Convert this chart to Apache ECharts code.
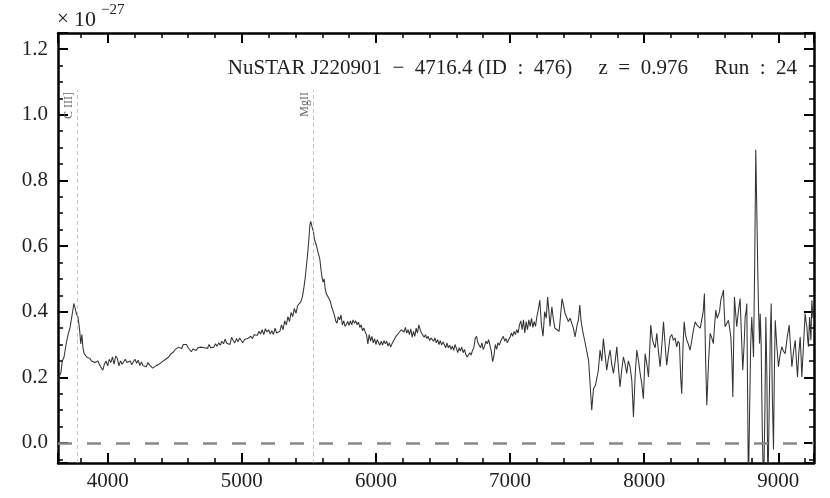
<!DOCTYPE html>
<html>
<head>
<meta charset="utf-8">
<script src="https://cdn.jsdelivr.net/npm/echarts@6/dist/echarts.min.js"></script>
<style>
  html, body { margin: 0; padding: 0; background: #fff; }
  #chart { width: 830px; height: 498px; }
</style>
</head>
<body>
<div id="chart"></div>
<script>
// observed wavelength (Angstrom)
const wavelength = [
  3630, 3642, 3652, 3662, 3675, 3690, 3705, 3720, 3735, 3748,
  3758, 3768, 3778, 3790, 3800, 3808, 3816, 3825, 3835, 3845,
  3855, 3868, 3880, 3892, 3904, 3916, 3928, 3940, 3952, 3964,
  3976, 3988, 4000, 4012, 4024, 4036, 4048, 4060, 4072, 4084,
  4096, 4108, 4120, 4132, 4144, 4156, 4168, 4180, 4192, 4204,
  4216, 4228, 4240, 4252, 4264, 4276, 4288, 4300, 4312, 4324,
  4336, 4348, 4360, 4372, 4384, 4396, 4408, 4420, 4432, 4444,
  4456, 4468, 4480, 4492, 4504, 4516, 4528, 4540, 4552, 4564,
  4576, 4588, 4600, 4612, 4624, 4636, 4648, 4660, 4672, 4684,
  4696, 4708, 4720, 4732, 4744, 4756, 4768, 4780, 4792, 4804,
  4816, 4828, 4840, 4852, 4864, 4876, 4888, 4900, 4912, 4924,
  4936, 4948, 4960, 4972, 4984, 4996, 5008, 5020, 5032, 5044,
  5056, 5068, 5080, 5092, 5104, 5116, 5128, 5140, 5152, 5164,
  5176, 5188, 5200, 5212, 5224, 5236, 5248, 5260, 5272, 5284,
  5296, 5308, 5320, 5332, 5344, 5356, 5368, 5380, 5392, 5404,
  5416, 5428, 5440, 5452, 5462, 5472, 5482, 5492, 5500, 5508,
  5514, 5520, 5526, 5534, 5542, 5550, 5558, 5566, 5574, 5582,
  5590, 5598, 5606, 5614, 5622, 5630, 5640, 5650, 5660, 5670,
  5680, 5690, 5700, 5710, 5720, 5730, 5740, 5750, 5760, 5770,
  5780, 5790, 5800, 5810, 5820, 5830, 5840, 5850, 5860, 5870,
  5880, 5890, 5900, 5910, 5920, 5930, 5940, 5950, 5960, 5970,
  5980, 5990, 6000, 6010, 6020, 6030, 6040, 6050, 6060, 6070,
  6080, 6090, 6100, 6110, 6120, 6130, 6140, 6150, 6160, 6170,
  6180, 6190, 6200, 6210, 6220, 6230, 6240, 6250, 6260, 6270,
  6280, 6290, 6300, 6310, 6320, 6330, 6340, 6350, 6360, 6370,
  6380, 6390, 6400, 6410, 6420, 6430, 6440, 6450, 6460, 6470,
  6480, 6490, 6500, 6510, 6520, 6530, 6540, 6550, 6560, 6570,
  6580, 6590, 6600, 6610, 6620, 6630, 6640, 6650, 6660, 6670,
  6680, 6690, 6700, 6710, 6720, 6730, 6740, 6750, 6760, 6770,
  6780, 6790, 6800, 6810, 6820, 6830, 6840, 6850, 6860, 6870,
  6880, 6890, 6900, 6910, 6920, 6930, 6940, 6950, 6960, 6970,
  6980, 6990, 7000, 7010, 7020, 7030, 7040, 7050, 7060, 7070,
  7080, 7090, 7100, 7110, 7120, 7130, 7140, 7150, 7160, 7170,
  7180, 7190, 7200, 7210, 7222, 7234, 7246, 7258, 7270, 7280,
  7290, 7298, 7306, 7312, 7322, 7334, 7350, 7366, 7378, 7388,
  7398, 7410, 7422, 7435, 7448, 7460, 7472, 7485, 7500, 7510,
  7520, 7530, 7540, 7552, 7562, 7574, 7586, 7596, 7609, 7622,
  7636, 7646, 7658, 7671, 7684, 7696, 7708, 7721, 7734, 7746,
  7758, 7771, 7784, 7796, 7808, 7820, 7832, 7845, 7858, 7870,
  7882, 7895, 7908, 7920, 7932, 7945, 7958, 7970, 7982, 7994,
  8007, 8020, 8032, 8049, 8060, 8069, 8082, 8094, 8106, 8119,
  8132, 8144, 8156, 8168, 8180, 8193, 8206, 8218, 8230, 8243,
  8253, 8263, 8272, 8280, 8290, 8298, 8308, 8318, 8330, 8342,
  8354, 8367, 8380, 8392, 8405, 8418, 8430, 8440, 8449, 8458,
  8467, 8480, 8492, 8504, 8516, 8525, 8534, 8544, 8554, 8562,
  8571, 8581, 8591, 8597, 8603, 8615, 8628, 8637, 8646, 8654,
  8661, 8667, 8673, 8681, 8690, 8702, 8715, 8725, 8735, 8745,
  8753, 8760, 8765, 8770, 8777, 8786, 8794, 8802, 8809, 8815,
  8824, 8832, 8840, 8847, 8853, 8860, 8865, 8872, 8880, 8890,
  8900, 8907, 8915, 8922, 8930, 8940, 8947, 8955, 8964, 8970,
  8977, 8988, 9001, 9014, 9026, 9038, 9051, 9066, 9081, 9090,
  9101, 9114, 9126, 9135, 9143, 9152, 9163, 9170, 9175, 9188,
  9200, 9207, 9213, 9220, 9225, 9229, 9233, 9238, 9243, 9250,
  9258, 9266
]

// flux density, units of 1e-27
const flux = [
  0.190, 0.205, 0.215, 0.250, 0.262, 0.300, 0.330, 0.352, 0.390, 0.425,
  0.410, 0.392, 0.385, 0.350, 0.302, 0.330, 0.290, 0.272, 0.276, 0.262,
  0.266, 0.257, 0.250, 0.255, 0.245, 0.240, 0.250, 0.238, 0.230, 0.222,
  0.240, 0.250, 0.235, 0.255, 0.245, 0.262, 0.240, 0.265, 0.258, 0.235,
  0.250, 0.240, 0.236, 0.255, 0.245, 0.242, 0.250, 0.238, 0.248, 0.255,
  0.243, 0.252, 0.236, 0.247, 0.235, 0.240, 0.232, 0.245, 0.238, 0.242,
  0.228, 0.225, 0.235, 0.230, 0.240, 0.236, 0.248, 0.245, 0.255, 0.250,
  0.262, 0.270, 0.268, 0.278, 0.285, 0.280, 0.292, 0.296, 0.288, 0.300,
  0.294, 0.300, 0.290, 0.296, 0.278, 0.286, 0.290, 0.282, 0.290, 0.285,
  0.292, 0.286, 0.290, 0.296, 0.288, 0.300, 0.290, 0.296, 0.292, 0.302,
  0.295, 0.305, 0.298, 0.310, 0.302, 0.316, 0.304, 0.310, 0.300, 0.322,
  0.312, 0.305, 0.318, 0.308, 0.320, 0.312, 0.305, 0.315, 0.310, 0.318,
  0.320, 0.325, 0.318, 0.330, 0.335, 0.328, 0.340, 0.332, 0.345, 0.330,
  0.348, 0.338, 0.345, 0.332, 0.342, 0.330, 0.350, 0.335, 0.330, 0.340,
  0.360, 0.345, 0.372, 0.360, 0.385, 0.370, 0.398, 0.385, 0.410, 0.395,
  0.418, 0.412, 0.430, 0.445, 0.470, 0.500, 0.540, 0.580, 0.620, 0.665,
  0.675, 0.665, 0.655, 0.645, 0.620, 0.610, 0.600, 0.585, 0.580, 0.560,
  0.530, 0.505, 0.490, 0.500, 0.470, 0.455, 0.460, 0.440, 0.432, 0.415,
  0.410, 0.390, 0.372, 0.365, 0.385, 0.375, 0.390, 0.360, 0.372, 0.355,
  0.362, 0.370, 0.358, 0.372, 0.360, 0.375, 0.365, 0.372, 0.360, 0.368,
  0.352, 0.360, 0.342, 0.350, 0.338, 0.330, 0.302, 0.330, 0.310, 0.325,
  0.305, 0.318, 0.300, 0.315, 0.305, 0.298, 0.310, 0.298, 0.312, 0.302,
  0.310, 0.295, 0.305, 0.292, 0.302, 0.310, 0.315, 0.325, 0.320, 0.335,
  0.330, 0.345, 0.350, 0.338, 0.352, 0.335, 0.345, 0.330, 0.348, 0.322,
  0.340, 0.325, 0.350, 0.335, 0.360, 0.345, 0.335, 0.340, 0.322, 0.330,
  0.318, 0.325, 0.312, 0.320, 0.315, 0.310, 0.320, 0.305, 0.315, 0.300,
  0.312, 0.298, 0.308, 0.300, 0.290, 0.305, 0.290, 0.298, 0.285, 0.295,
  0.282, 0.300, 0.288, 0.275, 0.290, 0.280, 0.292, 0.275, 0.285, 0.270,
  0.262, 0.258, 0.275, 0.268, 0.282, 0.290, 0.318, 0.325, 0.305, 0.300,
  0.290, 0.305, 0.285, 0.295, 0.310, 0.302, 0.315, 0.318, 0.280, 0.248,
  0.265, 0.300, 0.285, 0.305, 0.298, 0.310, 0.318, 0.325, 0.310, 0.318,
  0.305, 0.315, 0.322, 0.335, 0.325, 0.340, 0.330, 0.345, 0.335, 0.360,
  0.372, 0.345, 0.375, 0.335, 0.370, 0.345, 0.375, 0.355, 0.380, 0.352,
  0.370, 0.355, 0.385, 0.405, 0.435, 0.360, 0.325, 0.400, 0.380, 0.445,
  0.400, 0.355, 0.390, 0.415, 0.380, 0.350, 0.345, 0.340, 0.335, 0.440,
  0.420, 0.395, 0.400, 0.370, 0.380, 0.385, 0.350, 0.323, 0.360, 0.375,
  0.420, 0.370, 0.345, 0.350, 0.300, 0.275, 0.250, 0.245, 0.100, 0.165,
  0.175, 0.170, 0.220, 0.283, 0.250, 0.318, 0.270, 0.222, 0.260, 0.283,
  0.240, 0.212, 0.250, 0.293, 0.230, 0.171, 0.220, 0.262, 0.240, 0.212,
  0.250, 0.232, 0.190, 0.079, 0.200, 0.283, 0.250, 0.212, 0.180, 0.135,
  0.272, 0.240, 0.201, 0.359, 0.320, 0.303, 0.290, 0.334, 0.280, 0.232,
  0.300, 0.369, 0.300, 0.237, 0.280, 0.323, 0.330, 0.313, 0.320, 0.293,
  0.310, 0.303, 0.200, 0.150, 0.300, 0.369, 0.330, 0.313, 0.300, 0.283,
  0.310, 0.344, 0.369, 0.360, 0.354, 0.350, 0.344, 0.400, 0.455, 0.250,
  0.115, 0.250, 0.334, 0.320, 0.303, 0.360, 0.405, 0.380, 0.374, 0.400,
  0.435, 0.450, 0.466, 0.400, 0.354, 0.360, 0.374, 0.350, 0.323, 0.250,
  0.140, 0.300, 0.445, 0.400, 0.354, 0.400, 0.440, 0.330, 0.222, 0.300,
  0.384, 0.400, 0.425, 0.200, -0.150, 0.100, 0.300, 0.384, 0.320, 0.262,
  0.550, 0.893, 0.700, 0.516, 0.400, 0.303, 0.394, 0.300, 0.050, -0.150,
  0.100, 0.384, 0.200, -0.150, 0.050, 0.330, 0.425, 0.150, -0.020, 0.200,
  0.374, 0.300, 0.232, 0.270, 0.293, 0.280, 0.272, 0.320, 0.359, 0.300,
  0.232, 0.280, 0.313, 0.250, 0.201, 0.270, 0.323, 0.260, 0.201, 0.300,
  0.394, 0.370, 0.354, 0.310, 0.293, 0.340, 0.384, 0.350, 0.313, 0.435,
  0.380, 0.400
]

// emission lines at z = 0.976
const lineNames = ['C III]', 'MgII']
const lineWaves = [3772, 5530]
const lineTop = 1.075

const xMin = 3630
const xMax = 9266
const yMin = -0.061
const yMax = 1.249

const serif = 'Liberation Serif'

const chart = echarts.init(document.getElementById('chart'))

function xAxisCfg(pos) {
  return {
    type: 'value',
    position: pos,
    min: xMin,
    max: xMax,
    splitNumber: 5,
    axisLine: { show: true, onZero: false, lineStyle: { color: '#000', width: 2.5 } },
    axisTick: { show: true, inside: true, length: 10, lineStyle: { color: '#000', width: 2 } },
    minorTick: { show: true, splitNumber: 5, length: 5, lineStyle: { color: '#000', width: 1.5 } },
    axisLabel: {
      show: pos === 'bottom',
      showMinLabel: false,
      showMaxLabel: false,
      fontFamily: serif,
      fontSize: 21,
      color: '#222',
      margin: 8,
      formatter: v => String(v)
    },
    splitLine: { show: false }
  }
}

function yAxisCfg(pos) {
  return {
    type: 'value',
    position: pos,
    min: yMin,
    max: yMax,
    splitNumber: 6,
    axisLine: { show: true, onZero: false, lineStyle: { color: '#000', width: 2.5 } },
    axisTick: { show: true, inside: true, length: 10, lineStyle: { color: '#000', width: 2 } },
    minorTick: { show: true, splitNumber: 4, length: 5, lineStyle: { color: '#000', width: 1.5 } },
    axisLabel: {
      show: pos === 'left',
      showMinLabel: false,
      showMaxLabel: false,
      fontFamily: serif,
      fontSize: 21,
      color: '#222',
      margin: 10,
      formatter: v => v.toFixed(1)
    },
    splitLine: { show: false }
  }
}

const lineMarks = lineWaves.map((w, i) => [
  { coord: [w, yMin], name: lineNames[i] },
  { coord: [w, lineTop] }
])

chart.setOption({
  animation: false,
  backgroundColor: '#fff',
  title: {
    text: 'NuSTAR J220901  −  4716.4 (ID  :  476)     z  =  0.976     Run  :  24',
    right: 28,
    top: 53,
    textStyle: { fontFamily: serif, fontSize: 21, fontWeight: 'normal', color: '#222' }
  },
  graphic: [
    { type: 'text', left: 57, top: 9, style: { text: '×', font: '21px "Liberation Serif"', fill: '#222' } },
    { type: 'text', left: 74, top: 9, style: { text: '10', font: '22px "Liberation Serif"', fill: '#222' } },
    { type: 'text', left: 101, top: 3, style: { text: '−27', font: '15px "Liberation Serif"', fill: '#222' } }
  ],
  grid: { left: 58, right: 16, top: 33, bottom: 35 },
  xAxis: [xAxisCfg('bottom'), xAxisCfg('top')],
  yAxis: [yAxisCfg('left'), yAxisCfg('right')],
  series: [
    {
      type: 'line',
      data: wavelength.map((w, i) => [w, flux[i]]),
      showSymbol: false,
      symbol: 'none',
      clip: true,
      lineStyle: { color: '#333', width: 1.05 },
      z: 3,
      markLine: {
        silent: true,
        symbol: 'none',
        animation: false,
        data: [
          {
            yAxis: 0,
            label: { show: false },
            lineStyle: { color: '#888', width: 2.5, type: [14, 15] }
          },
          ...lineMarks
        ],
        lineStyle: { color: '#b5b5b5', width: 0.8, type: [4, 3] },
        label: {
          show: true,
          position: 'insideEndTop',
          formatter: p => p.name,
          fontFamily: serif,
          fontSize: 12,
          color: '#666',
          distance: 2
        }
      }
    }
  ]
})
</script>
</body>
</html>
